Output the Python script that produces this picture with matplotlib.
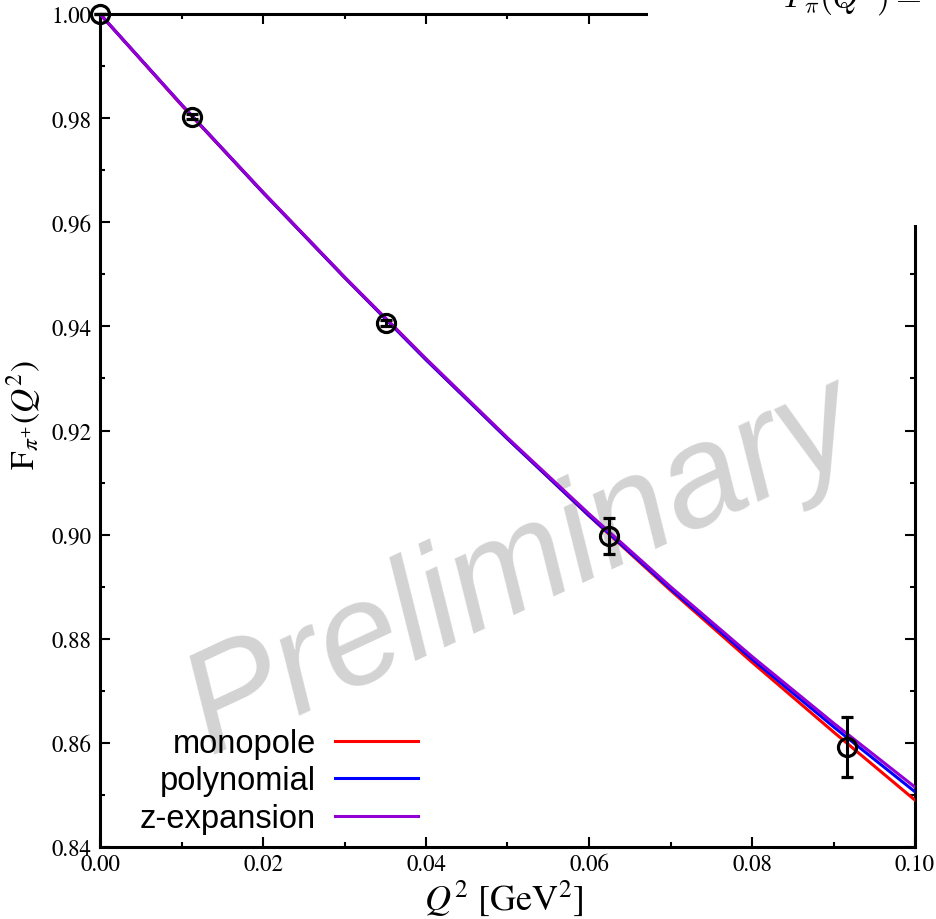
import matplotlib
matplotlib.use("Agg")
import matplotlib.pyplot as plt
from matplotlib.ticker import MultipleLocator, FormatStrFormatter
from matplotlib.patches import Rectangle

# ---- data ----
q2_data = [0.0, 0.0113, 0.0351, 0.0625, 0.0917]
f_data = [1.0000, 0.9803, 0.9406, 0.8997, 0.8592]
f_err = [0.0, 0.0005, 0.0006, 0.0034, 0.0057]

q2_curve = [0.00, 0.01, 0.02, 0.03, 0.04, 0.05, 0.06, 0.07, 0.08, 0.09, 0.10]
f_monopole = [1.0000, 0.9825, 0.9657, 0.9494, 0.9336, 0.9184, 0.9036, 0.8893, 0.8755, 0.8621, 0.8490]
f_polynomial = [1.0000, 0.9826, 0.9657, 0.9494, 0.9336, 0.9184, 0.9037, 0.8896, 0.8761, 0.8631, 0.8506]
f_zexp = [1.0000, 0.9826, 0.9658, 0.9495, 0.9338, 0.9186, 0.9040, 0.8900, 0.8766, 0.8638, 0.8515]

labels = ["monopole", "polynomial", "z-expansion"]
colors = ["#ff0000", "#0000ff", "#9400d3"]

plt.rcParams['mathtext.fontset'] = 'stix'
plt.rcParams['font.family'] = ['STIXGeneral', 'DejaVu Serif']

W, H = 937, 920
fig = plt.figure(figsize=(W / 100, H / 100), dpi=100)
ax = fig.add_axes([100 / W, 1 - 848 / H, 815 / W, 833 / H])
ax.set_facecolor("none")

# watermark (below the curves)
ax.text(522 / W, 1 - 568 / H, "Preliminary", fontsize=104, color="#d3d3d3",
        family="Liberation Sans", style="italic", rotation=25,
        ha="center", va="center", rotation_mode="anchor", zorder=1,
        transform=fig.transFigure, clip_on=False)

series = [f_monopole, f_polynomial, f_zexp]
handles = []
for ys, lab, c in zip(series, labels, colors):
    h, = ax.plot(q2_curve, ys, color=c, lw=2.2, label=lab, zorder=3)
    handles.append(h)

ax.errorbar(q2_data, f_data, yerr=f_err, fmt="o", ms=13, mfc="none", mec="black",
            mew=2.3, ecolor="black", elinewidth=2.2, capsize=4.5, capthick=2.2,
            zorder=4, clip_on=False)

ax.set_xlim(0, 0.10)
ax.set_ylim(0.84, 1.00)
ax.xaxis.set_major_locator(MultipleLocator(0.02))
ax.xaxis.set_minor_locator(MultipleLocator(0.01))
ax.yaxis.set_major_locator(MultipleLocator(0.02))
ax.yaxis.set_minor_locator(MultipleLocator(0.01))
ax.xaxis.set_major_formatter(FormatStrFormatter("%.2f"))
ax.yaxis.set_major_formatter(FormatStrFormatter("%.2f"))
ax.tick_params(which="both", direction="in", top=True, right=True, width=1.5,
               labelsize=16.5, pad=6)
ax.tick_params(axis="x", which="both", pad=5)
ax.tick_params(which="major", length=7)
ax.tick_params(which="minor", length=3.5)
for s in ax.spines.values():
    s.set_linewidth(2.2)

ax.set_xlabel(r"$Q^2$ [GeV$^2$]", fontsize=26)
ax.xaxis.set_label_coords(0.495, -0.036)
ax.set_ylabel(r"$\mathrm{F}_{\pi^{+}}(Q^2)$", fontsize=24)
ax.yaxis.set_label_coords(-0.070, 0.52)

leg = ax.legend(handles=handles, labels=labels, loc="lower right",
                bbox_to_anchor=(418 / W, 1 - 835 / H), bbox_transform=fig.transFigure,
                frameon=False, markerfirst=False, borderpad=0, borderaxespad=0,
                handlelength=2.55, handletextpad=0.58, labelspacing=0.2,
                prop={"family": "Liberation Sans", "size": 23.5})
for line in leg.get_lines():
    line.set_linewidth(2.2)

# overlapping white box with formula (top right), cut by the top edge as in the reference
fig.patches.append(Rectangle((648 / W, 1 - 226 / H), 1 - 648 / W, 226 / H + 0.01,
                             transform=fig.transFigure, facecolor="white",
                             edgecolor="none", zorder=10))
fig.text(783 / W, 1 - 8 / H, r"$F_\pi(Q^2) =$", fontsize=24, ha="left", va="baseline",
         math_fontfamily="cm", zorder=11)

fig.savefig("out.png", dpi=100)
